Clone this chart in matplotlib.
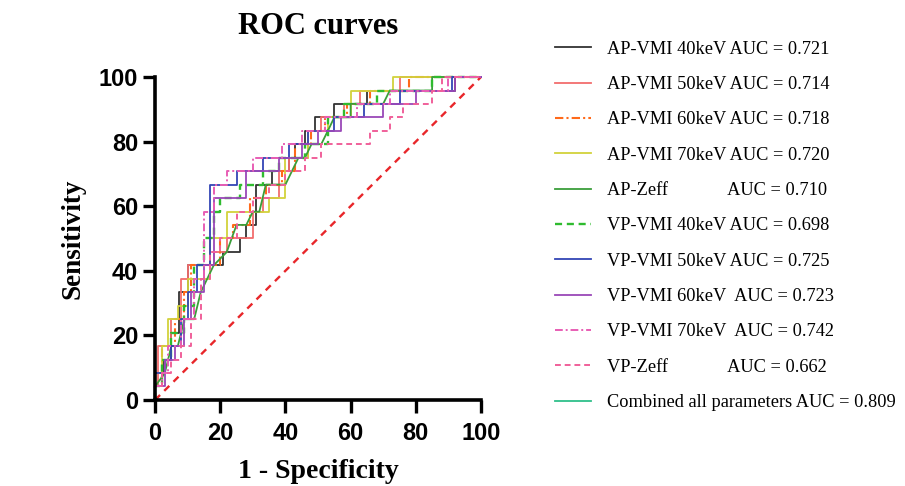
"""ROC curves for AP / VP spectral parameters"""

import numpy as np
import matplotlib.pyplot as plt
from matplotlib.lines import Line2D

# curve vertices (1 - specificity, sensitivity), both in %
ap40_x = [0, 0, 2.5, 2.5, 5, 5, 7.5, 7.5, 10, 10, 21, 21, 26, 26, 28, 28, 31, 31, 36, 36, 41, 41, 43, 43, 46, 46, 49, 49, 55, 55, 65, 65, 92, 92, 100]
ap40_y = [0, 8.3, 8.3, 12.5, 12.5, 20.8, 20.8, 33.3, 33.3, 41.7, 41.7, 45.8, 45.8, 50, 50, 54.2, 54.2, 66.7, 66.7, 70.8, 70.8, 75, 75, 79.2, 79.2, 83.3, 83.3, 87.5, 87.5, 91.7, 91.7, 95.8, 95.8, 100, 100]

ap50_x = [0, 0, 1, 1, 5, 5, 8, 8, 10, 10, 18, 18, 22, 22, 30, 30, 33, 33, 38, 38, 41, 41, 47, 47, 51, 51, 58, 58, 63, 63, 75, 75, 100]
ap50_y = [0, 4.2, 4.2, 16.7, 16.7, 25, 25, 37.5, 37.5, 41.7, 41.7, 45.8, 45.8, 50, 50, 58.3, 58.3, 62.5, 62.5, 70.8, 70.8, 75, 75, 83.3, 83.3, 87.5, 87.5, 91.7, 91.7, 95.8, 95.8, 100, 100]

ap60_x = [0, 0, 2, 2, 6, 6, 9, 9, 11, 11, 20, 20, 24, 24, 29, 29, 34, 34, 39, 39, 43, 43, 48, 48, 52, 52, 59, 59, 66, 66, 78, 78, 100]
ap60_y = [0, 8.3, 8.3, 16.7, 16.7, 25, 25, 33.3, 33.3, 41.7, 41.7, 50, 50, 54.2, 54.2, 62.5, 62.5, 66.7, 66.7, 70.8, 70.8, 79.2, 79.2, 83.3, 83.3, 87.5, 87.5, 91.7, 91.7, 95.8, 95.8, 100, 100]

ap70_x = [0, 0, 2, 2, 4, 4, 7, 7, 10, 10, 17, 17, 22, 22, 35, 35, 40, 40, 47, 47, 53, 53, 60, 60, 73, 73, 100]
ap70_y = [0, 8.3, 8.3, 16.7, 16.7, 25, 25, 29.2, 29.2, 37.5, 37.5, 50, 50, 58.3, 58.3, 62.5, 62.5, 75, 75, 83.3, 83.3, 87.5, 87.5, 95.8, 95.8, 100, 100]

apz_x = [0, 0, 3, 5, 7, 9, 12, 14, 16, 18, 22, 25, 28, 30, 32, 34, 40, 44, 46, 48, 51, 53, 55, 60, 60, 70, 72, 85, 85, 100]
apz_y = [0, 4.2, 8.3, 16.7, 16.7, 25, 25, 33.3, 37.5, 41.7, 45.8, 54.2, 54.2, 58.3, 58.3, 66.7, 66.7, 75, 75, 79.2, 79.2, 83.3, 87.5, 87.5, 91.7, 91.7, 95.8, 95.8, 100, 100]

vp40_x = [0, 0, 2, 2, 5, 5, 9, 9, 12, 12, 15, 15, 18, 18, 20, 20, 26, 26, 33, 33, 38, 38, 46, 46, 53, 53, 58, 58, 68, 68, 85, 85, 100]
vp40_y = [0, 4.2, 4.2, 12.5, 12.5, 20.8, 20.8, 29.2, 29.2, 41.7, 41.7, 50, 50, 58.3, 58.3, 62.5, 62.5, 66.7, 66.7, 70.8, 70.8, 75, 75, 79.2, 79.2, 87.5, 87.5, 91.7, 91.7, 95.8, 95.8, 100, 100]

vp50_x = [0, 0, 3, 3, 5, 5, 8, 8, 10, 10, 13, 13, 17, 17, 25, 25, 33, 33, 41, 41, 47, 47, 55, 55, 64, 64, 75, 75, 91, 91, 100]
vp50_y = [0, 8.3, 8.3, 12.5, 12.5, 16.7, 16.7, 25, 25, 33.3, 33.3, 41.7, 41.7, 66.7, 66.7, 70.8, 70.8, 75, 75, 79.2, 79.2, 83.3, 83.3, 87.5, 87.5, 91.7, 91.7, 95.8, 95.8, 100, 100]

vp60_x = [0, 0, 3, 3, 6, 6, 9, 9, 11, 11, 15, 15, 18, 18, 28, 28, 38, 38, 45, 45, 50, 50, 57, 57, 70, 70, 80, 80, 92, 92, 100]
vp60_y = [0, 4.2, 4.2, 12.5, 12.5, 16.7, 16.7, 25, 25, 33.3, 33.3, 41.7, 41.7, 62.5, 62.5, 70.8, 70.8, 75, 75, 79.2, 79.2, 83.3, 83.3, 87.5, 87.5, 91.7, 91.7, 95.8, 95.8, 100, 100]

vp70_x = [0, 0, 2, 2, 4, 4, 8, 8, 12, 12, 15, 15, 18, 18, 22, 22, 30, 30, 39, 39, 45, 45, 52, 52, 62, 62, 72, 72, 90, 90, 100]
vp70_y = [0, 4.2, 4.2, 8.3, 8.3, 16.7, 16.7, 25, 25, 37.5, 37.5, 58.3, 58.3, 66.7, 66.7, 70.8, 70.8, 75, 75, 79.2, 79.2, 83.3, 83.3, 87.5, 87.5, 91.7, 91.7, 95.8, 95.8, 100, 100]

vpz_x = [0, 0, 2, 2, 5, 5, 8, 8, 11, 11, 14, 14, 17, 17, 20, 20, 25, 25, 30, 30, 35, 35, 40, 40, 46, 46, 51, 51, 66, 66, 72, 72, 76, 76, 85, 85, 88, 88, 100]
vpz_y = [0, 4.2, 4.2, 8.3, 8.3, 12.5, 12.5, 16.7, 16.7, 25, 25, 37.5, 37.5, 45.8, 45.8, 50, 50, 58.3, 58.3, 62.5, 62.5, 66.7, 66.7, 70.8, 70.8, 75, 75, 79.2, 79.2, 83.3, 83.3, 87.5, 87.5, 91.7, 91.7, 95.8, 95.8, 100, 100]

labels = [
    'AP-VMI 40keV AUC = 0.721',
    'AP-VMI 50keV AUC = 0.714',
    'AP-VMI 60keV AUC = 0.718',
    'AP-VMI 70keV AUC = 0.720',
    'AP-Zeff             AUC = 0.710',
    'VP-VMI 40keV AUC = 0.698',
    'VP-VMI 50keV AUC = 0.725',
    'VP-VMI 60keV  AUC = 0.723',
    'VP-VMI 70keV  AUC = 0.742',
    'VP-Zeff             AUC = 0.662',
    'Combined all parameters AUC = 0.809',
]
curves = [(ap40_x, ap40_y), (ap50_x, ap50_y), (ap60_x, ap60_y), (ap70_x, ap70_y),
          (apz_x, apz_y), (vp40_x, vp40_y), (vp50_x, vp50_y), (vp60_x, vp60_y),
          (vp70_x, vp70_y), (vpz_x, vpz_y)]
colors = ['#333333', '#f26d6d', '#ff6a1a', '#d2d23c', '#3a9e3a', '#2fbb2f',
          '#3345b5', '#9a48b8', '#e85eb4', '#f0609a', '#2fbf8a']
styles = ['-', '-', (0, (4, 1.5, 1, 1.5)), '-', '-', (0, (3, 2)), '-', '-',
          (0, (4, 1.5, 1, 1.5)), (0, (3, 2)), '-']
widths = [1.3, 1.3, 1.5, 1.3, 1.3, 1.7, 1.3, 1.3, 1.4, 1.4, 1.3]

fig = plt.figure(figsize=(9.05, 4.86), dpi=100)
ax = fig.add_axes([0.1713, 0.177, 0.3602, 0.6646])

ax.plot([0, 100], [0, 100], color='#e8262a', lw=1.7, ls=(0, (3, 2.5)), clip_on=False)
for (x, y), c, s, w in zip(curves, colors, styles, widths):
    ax.plot(x, y, color=c, ls=s, lw=w, clip_on=False)

ax.set_xlim(0, 100)
ax.set_ylim(0, 100)
ax.set_xticks(range(0, 101, 20))
ax.set_yticks(range(0, 101, 20))
for sp in ['top', 'right']:
    ax.spines[sp].set_visible(False)
for sp in ['left', 'bottom']:
    ax.spines[sp].set_linewidth(2.6)
ax.tick_params(width=2.4, length=9, labelsize=17, pad=3)
ax.tick_params(axis='x', pad=7)
for t in ax.get_xticklabels() + ax.get_yticklabels():
    t.set_fontweight('bold')
    t.set_family('Liberation Sans')

serif = 'Liberation Serif'
ax.set_title('ROC curves', fontsize=22, fontweight='bold', family=serif, pad=31)
ax.set_xlabel('1 - Specificity', fontsize=20, fontweight='bold', family=serif, labelpad=10)
ax.set_ylabel('Sensitivity', fontsize=19.5, fontweight='bold', family=serif, labelpad=10)

handles = [Line2D([], [], color=c, ls=s, lw=w) for c, s, w in zip(colors, styles, widths)]
fig.legend(handles, labels, loc='upper left', bbox_to_anchor=(0.595, 0.95),
           frameon=False, prop={'family': serif, 'size': 13.2},
           handlelength=1.95, handletextpad=0.9, labelspacing=1.0)

fig.savefig('out.png', dpi=100)
